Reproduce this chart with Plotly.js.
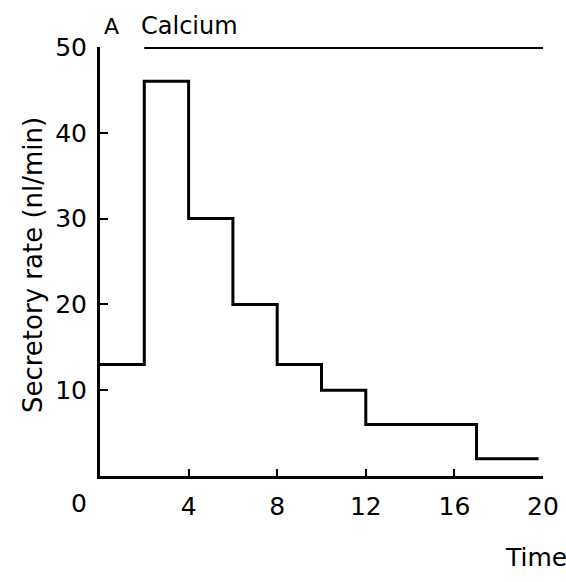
<!DOCTYPE html>
<html>
<head>
<meta charset="utf-8">
<script src="https://cdn.plot.ly/plotly-3.0.1.min.js"></script>
<style>html,body{margin:0;padding:0;background:#fff;}#chart{width:566px;height:582px;}</style>
</head>
<body>
<div id="chart"></div>
<script>
// Step boundaries (min) and secretory rate (nl/min) for each interval
const timeEdges = [0, 2, 4, 6, 8, 10, 12, 17, 19.8];
const secretoryRate = [13, 46, 30, 20, 13, 10, 6, 2, 2];
// Calcium application period
const calciumTime = [2, 20];
const calciumLevel = [50, 50];
const xTickVals = [4, 8, 12, 16, 20];
const yTickVals = [10, 20, 30, 40, 50];

const font = {family: 'DejaVu Sans, sans-serif', color: '#000'};
const f = s => Object.assign({size: s}, font);

const traces = [
  {x: timeEdges, y: secretoryRate, mode: 'lines', line: {shape: 'hv', color: '#000', width: 3}, cliponaxis: false, hoverinfo: 'skip'},
  {x: calciumTime, y: calciumLevel, mode: 'lines', line: {color: '#000', width: 4}, cliponaxis: false, hoverinfo: 'skip'}
];

const layout = {
  width: 566, height: 582,
  margin: {l: 100, r: 23, t: 47, b: 106},
  paper_bgcolor: '#fff', plot_bgcolor: '#fff',
  showlegend: false,
  font: f(24),
  xaxis: {
    range: [0, 20], tickvals: xTickVals, ticks: 'inside', ticklen: 7, tickwidth: 2, tickcolor: '#000',
    showline: true, linewidth: 3, linecolor: '#000', showgrid: false, zeroline: false,
    tickfont: f(25), ticklabelstandoff: 6
  },
  yaxis: {
    range: [0, 50], tickvals: yTickVals, ticks: 'inside', ticklen: 8, tickwidth: 2, tickcolor: '#000',
    showline: true, linewidth: 3, linecolor: '#000', showgrid: false, zeroline: false,
    tickfont: f(25), ticklabelstandoff: 5
  },
  annotations: [
    {text: 'A', xref: 'paper', yref: 'paper', x: 0.005, y: 1.047, xanchor: 'left', yanchor: 'middle', showarrow: false, font: f(22)},
    {text: 'Calcium', xref: 'paper', yref: 'paper', x: 0.088, y: 1.049, xanchor: 'left', yanchor: 'middle', showarrow: false, font: f(24)},
    {text: 'Secretory rate (nl/min)', xref: 'paper', yref: 'paper', x: -0.151, y: 0.492, xanchor: 'center', yanchor: 'middle', textangle: -90, showarrow: false, font: f(26)},
    {text: '0', xref: 'paper', yref: 'paper', x: -0.047, y: -0.063, xanchor: 'center', yanchor: 'middle', showarrow: false, font: f(25)},
    {text: 'Time', xref: 'paper', yref: 'paper', x: 0.91, y: -0.191, xanchor: 'left', yanchor: 'middle', showarrow: false, font: f(25)}
  ]
};

Plotly.newPlot('chart', traces, layout, {staticPlot: true, displayModeBar: false});
</script>
</body>
</html>
